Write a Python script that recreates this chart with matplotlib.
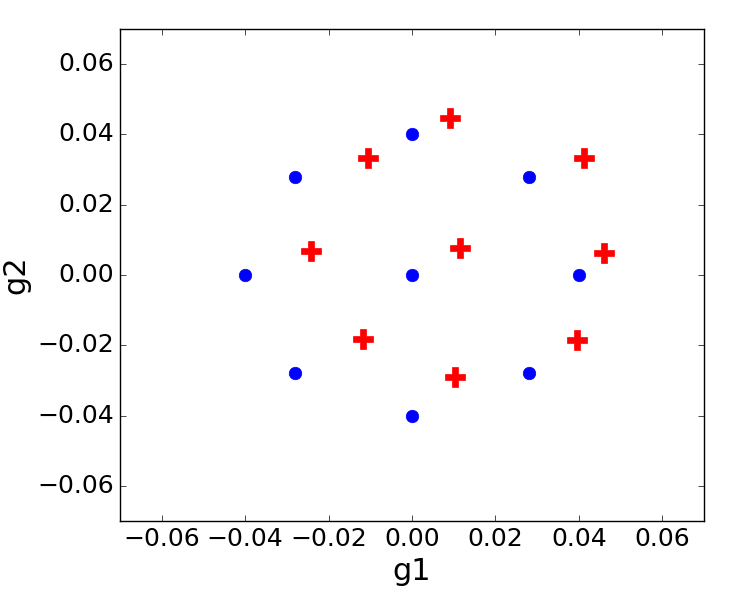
import matplotlib
matplotlib.use('Agg')
import matplotlib.pyplot as plt

# blue grid points
blue_g1 = [0.0, -0.028, 0.028, -0.04, 0.0, 0.04, -0.028, 0.028, 0.0]
blue_g2 = [0.04, 0.028, 0.028, 0.0, 0.0, 0.0, -0.028, -0.028, -0.04]

# red samples
red_g1 = [0.0091, -0.0105, 0.0412, -0.0242, 0.0115, 0.046, -0.0117, 0.0396, 0.0103]
red_g2 = [0.0447, 0.0333, 0.0333, 0.0068, 0.0077, 0.0063, -0.0182, -0.0185, -0.029]

plt.style.use('classic')
fig = plt.figure(figsize=(7.43, 6), dpi=100)
ax = fig.add_axes([120/743, 1 - 521/600, 584/743, 492/600])
ax.plot(blue_g1, blue_g2, 'o', color='blue', markersize=9, markeredgecolor='blue')
ax.plot(red_g1, red_g2, 'P', color='red', markersize=15, markeredgecolor='red')
ax.set_xlim(-0.07, 0.07)
ax.set_ylim(-0.07, 0.07)
ax.set_xticks([-0.06, -0.04, -0.02, 0.0, 0.02, 0.04, 0.06])
ax.set_yticks([-0.06, -0.04, -0.02, 0.0, 0.02, 0.04, 0.06])
ax.tick_params(labelsize=18)
ax.set_xlabel('g1', fontsize=22)
ax.set_ylabel('g2', fontsize=22)
fig.patch.set_facecolor('white')
fig.savefig('out.png', dpi=100, facecolor='white')
